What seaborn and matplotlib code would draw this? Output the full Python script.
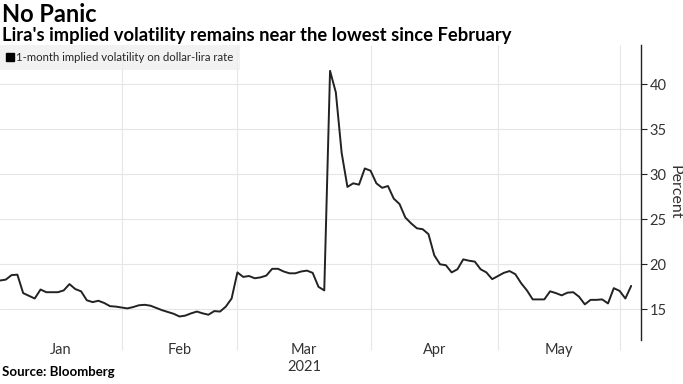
import numpy as np
import pandas as pd
import matplotlib
matplotlib.use("Agg")
import matplotlib.pyplot as plt
import seaborn as sns
from matplotlib.lines import Line2D

# ------------------------------------------------
# DATA
# ------------------------------------------------

start_date = "2021-01-01"
end_date = "2021-06-03"

volatility = [
    18.2, 18.3, 18.8, 18.85, 16.8, 16.5, 16.2, 17.2, 16.9, 16.9,
    16.9, 17.1, 17.8, 17.25, 17.0, 16.0, 15.8, 15.95, 15.7, 15.35,
    15.3, 15.2, 15.1, 15.25, 15.45, 15.5, 15.4, 15.15, 14.9, 14.7,
    14.5, 14.2, 14.3, 14.55, 14.75, 14.55, 14.4, 14.8, 14.75, 15.3,
    16.2, 19.1, 18.6, 18.7, 18.45, 18.55, 18.75, 19.5, 19.5, 19.2,
    19.0, 19.0, 19.2, 19.3, 19.05, 17.5, 17.1, 41.5, 39.1, 32.4,
    28.6, 29.0, 28.85, 30.65, 30.4, 29.0, 28.5, 28.7, 27.3, 26.7,
    25.2, 24.55, 24.0, 23.9, 23.35, 21.0, 20.0, 19.9, 19.1, 19.45,
    20.55, 20.4, 20.3, 19.45, 19.1, 18.35, 18.7, 19.05, 19.25, 18.9,
    17.9, 17.1, 16.1, 16.1, 16.1, 17.0, 16.8, 16.55, 16.85, 16.9,
    16.4, 15.55, 16.05, 16.05, 16.1, 15.65, 17.35, 17.05, 16.2, 17.6,
]

y_ticks = [15, 20, 25, 30, 35, 40]
month_labels = ["Jan", "Feb", "Mar", "Apr", "May"]
year_label = "2021"

title = "No Panic"
subtitle = "Lira's implied volatility remains near the lowest since February"
series_label = "1-month implied volatility on dollar-lira rate"
source = "Source: Bloomberg"

# ------------------------------------------------
# PREP
# ------------------------------------------------

dates = pd.bdate_range(start_date, end_date)
df = pd.DataFrame({"date": dates, "vol": volatility})
df["pos"] = np.arange(len(df))

# month boundaries on the trading-day axis
month_start = df.groupby(df["date"].dt.month)["pos"].min().tolist()
month_centers = [(month_start[i] + month_start[i + 1]) / 2 for i in range(len(month_labels))]

# ------------------------------------------------
# PLOT
# ------------------------------------------------

sns.set_theme(style="white")
plt.rcParams["font.family"] = ["Lato", "DejaVu Sans"]

fig = plt.figure(figsize=(6.83, 3.84), dpi=100)
ax = fig.add_axes([0.0, 0.1146, 0.9385, 0.7682])

y_lo, y_hi = 11.59, 44.37
ax.set_ylim(y_lo, y_hi)
ax.set_xlim(0, 110.7)

for v in y_ticks:
    ax.axhline(v, color="#e6e6e6", lw=0.8, zorder=0)
ax.vlines(month_start[1:], 10.5, y_hi, color="#e6e6e6", lw=0.8, zorder=0, clip_on=False)

sns.lineplot(data=df, x="pos", y="vol", ax=ax, color="#222222", lw=1.4, legend=False)

for side in ["top", "left", "bottom"]:
    ax.spines[side].set_visible(False)
ax.spines["right"].set_color("#222222")
ax.spines["right"].set_linewidth(1.0)

ax.yaxis.tick_right()
ax.set_yticks(y_ticks)
ax.tick_params(axis="y", direction="out", length=4, width=0.8, color="#222222",
               labelsize=10.5, labelcolor="#333333", pad=2)
ax.yaxis.set_label_position("right")
ax.set_ylabel("Percent", rotation=270, fontsize=11.5, color="#333333", labelpad=11)

ax.set_xticks(month_centers)
ax.set_xticklabels(month_labels, fontsize=10.5, color="#333333")
ax.tick_params(axis="x", length=0, pad=2)
ax.set_xlabel("")
ax.text(month_centers[2], -0.068, year_label, transform=ax.get_xaxis_transform(),
        ha="center", va="top", fontsize=10.5, color="#333333")

handle = Line2D([], [], marker="s", color="none", markerfacecolor="black",
                markeredgecolor="black", markersize=5.5)
leg = ax.legend([handle], [series_label], loc="upper left", bbox_to_anchor=(0, 1),
                borderaxespad=0, frameon=True, fancybox=False, fontsize=8.2,
                handlelength=0.5, handletextpad=0.3, borderpad=0.6)
leg.get_frame().set_facecolor("#efefef")
leg.get_frame().set_edgecolor("none")

fig.text(0.003, 0.962, title, fontsize=17, fontweight="bold", color="black", va="center")
fig.text(0.003, 0.908, subtitle, fontsize=13.2, fontweight="bold", color="black", va="center")
fig.text(0.003, 0.016, source, fontsize=9.5, fontweight="bold", color="black", va="bottom")

fig.savefig("out.png", dpi=100)
